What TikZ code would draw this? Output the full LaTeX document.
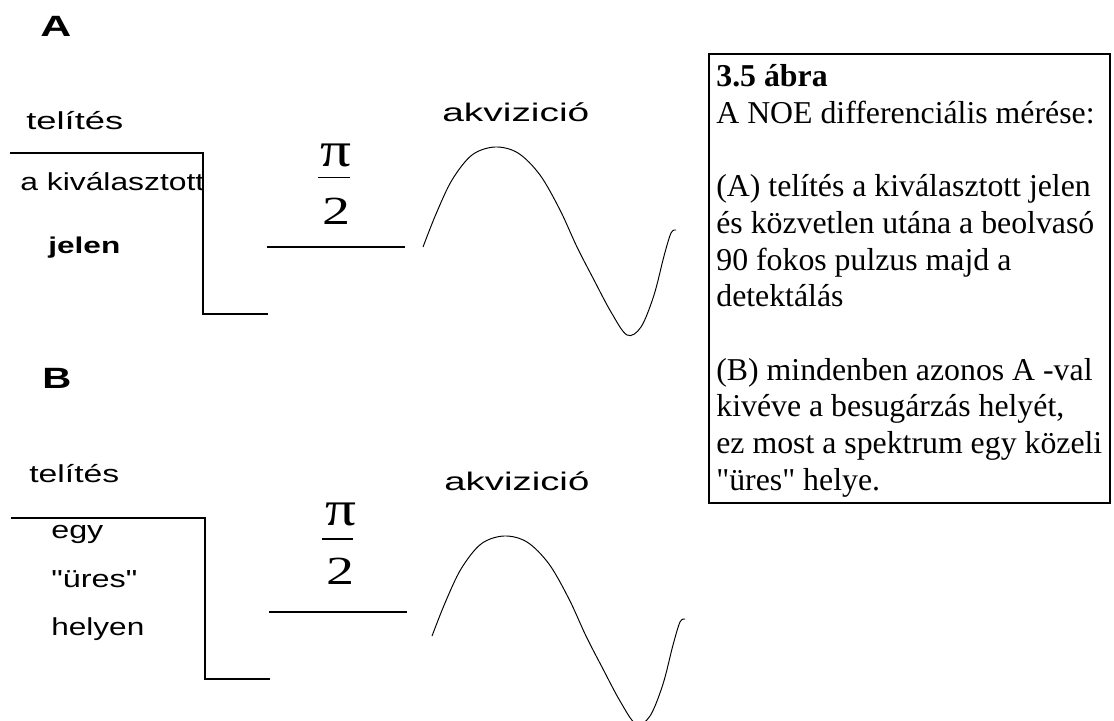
\documentclass[tikz,border=0pt]{standalone}
\usepackage{fontspec}
\newfontfamily\captionfont{Liberation Serif}
\newfontfamily\labelfont{Liberation Sans}
\usepackage{graphicx}
\newlength{\pxlen}
\setlength{\pxlen}{0.02cm}
\begin{document}
\begin{tikzpicture}[
    x=0.02cm,
    y=-0.02cm,
    pulse edge/.style={draw=black, line width=1.1pt},
    fid trace/.style={draw=black, line width=0.55pt, line join=round},
    frame edge/.style={draw=black, line width=1.2pt},
    panel label/.style={font=\labelfont\bfseries\fontsize{16.7}{18}\selectfont, inner sep=0pt, anchor=base west},
    step label/.style={font=\labelfont\fontsize{14}{16}\selectfont, inner sep=0pt, anchor=base west},
    angle label/.style={font=\captionfont\fontsize{22.7}{24}\selectfont, inner sep=0pt},
    caption text/.style={font=\captionfont\fontsize{18.1}{20.9}\selectfont, align=left, inner sep=0pt, anchor=north west}
]

% Stretch a label to #1 pixels wide, keeping its height.
\newcommand{\stretchlabel}[2]{\resizebox{#1\pxlen}{\height}{#2}}

% Free induction decay, drawn once per panel.
\newcommand{\fidTrace}{%
  \draw[fid trace] plot[smooth, tension=0.55] coordinates {
    (423,247) (436,214) (452,180) (472,155) (495,147) (518,153)
    (540,175) (560,210) (577,247) (594,280) (611,312) (627,335)
    (641,327) (654,295) (664,256) (671,233) (676,230)};%
}

\useasboundingbox (0,0) rectangle (1114,720);
\clip (0,0) rectangle (1114,720);

% Panel letters.
\node[panel label] (panelA) at (40,36) {\stretchlabel{31}{A}};
\node[panel label] (panelB) at (42,388) {\stretchlabel{29}{B}};

% Panel A: saturation on the chosen line, then the pi/2 pulse.
\draw[pulse edge] (10,153) -- (203,153) -- (203,314) -- (268,314);
\draw[pulse edge] (267,247) -- (405,247);
\node[step label] (satA) at (26,129) {\stretchlabel{97}{telítés}};
\node[step label] (selA) at (20,190) {\stretchlabel{184}{a kiválasztott}};
\node[step label, font=\labelfont\bfseries\fontsize{13}{15}\selectfont]
  (lineA) at (48,253) {\stretchlabel{72}{jelen}};
\node[angle label, font=\captionfont\fontsize{28}{30}\selectfont] (piA) at (336,155) {\stretchlabel{31}{π}};
\draw[pulse edge] (318,177.5) -- (350,177.5);
\node[angle label] (twoA) at (336.5,211) {\stretchlabel{28}{2}};
\node[step label, font=\labelfont\fontsize{14.5}{16}\selectfont]
  (acqA) at (442,121.7) {\stretchlabel{147}{akvizició}};
\begin{scope}
  \fidTrace
\end{scope}

% Panel B: saturation on an empty spot of the spectrum.
\draw[pulse edge] (11,518) -- (205,518) -- (205,679) -- (270,679);
\draw[pulse edge] (269,612) -- (407,612);
\node[step label] (satB) at (29,482) {\stretchlabel{90}{telítés}};
\node[step label] (offB1) at (51,538) {\stretchlabel{52}{egy}};
\node[step label] (offB2) at (51,587) {\stretchlabel{86}{"üres"}};
\node[step label] (offB3) at (51,635) {\stretchlabel{93}{helyen}};
\node[angle label, font=\captionfont\fontsize{28}{30}\selectfont] (piB) at (341,514) {\stretchlabel{31}{π}};
\draw[pulse edge] (322,539) -- (353,539);
\node[angle label] (twoB) at (340,571) {\stretchlabel{28}{2}};
\node[step label, font=\labelfont\fontsize{14.5}{16}\selectfont]
  (acqB) at (444,490) {\stretchlabel{145}{akvizició}};
\begin{scope}[shift={(9,389)}]
  \fidTrace
\end{scope}

% Caption box.
\draw[frame edge] (709,54) rectangle (1110,503);
\node[caption text] (caption) at (716,64) {%
  \textbf{3.5 ábra}\\
  A NOE differenciális mérése:\\
  \mbox{}\\
  (A) telítés a kiválasztott jelen\\
  és közvetlen utána a beolvasó\\
  90 fokos pulzus majd a\\
  detektálás\\
  \mbox{}\\
  (B) mindenben azonos A -val\\
  kivéve a besugárzás helyét,\\
  ez most a spektrum egy közeli\\
  "üres" helye.};

\end{tikzpicture}
\end{document}
